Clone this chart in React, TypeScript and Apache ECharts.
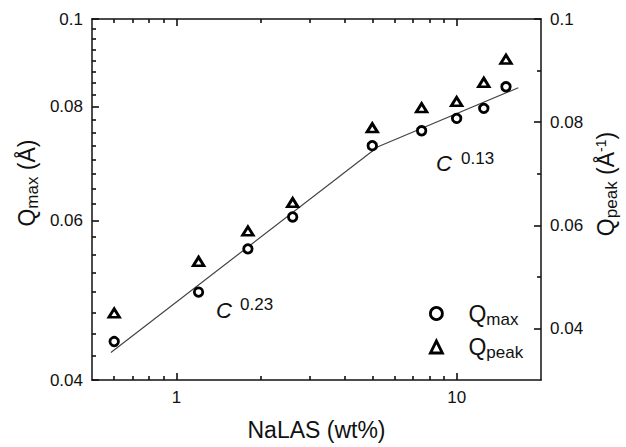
import React, { useEffect, useRef } from "react";
import * as echarts from "echarts";

// NaLAS concentration (wt%)
const concentration = [0.6, 1.2, 1.8, 2.6, 5, 7.5, 10, 12.5, 15];
// Q_max (left log axis)
const qMax = [0.0441, 0.05, 0.0558, 0.0605, 0.0725, 0.0753, 0.0777, 0.0797, 0.0842];
// Q_peak (right linear axis)
const qPeak = [0.043, 0.053, 0.0589, 0.0644, 0.0789, 0.0828, 0.084, 0.0877, 0.0922];
// piecewise power-law fit  (C^0.23 then C^0.13)
const fitX = [0.584, 5.24, 16.6];
const fitY = [0.0429, 0.0723, 0.084];

// axis ranges
const X_MIN = 0.5, X_MAX = 20;
const YL_MIN = 0.04, YL_MAX = 0.1;
const YR_MIN = 0.03, YR_MAX = 0.1;

const xMajorTicks = [1, 10];
const xMinorTicks = [0.6, 0.7, 0.8, 0.9, 2, 3, 4, 5, 6, 7, 8, 9];
const leftMajorTicks = [0.04, 0.06, 0.08, 0.1];
const leftMinorTicks = [
  0.0425, 0.045, 0.0475, 0.05, 0.0525, 0.055, 0.0575,
  0.0625, 0.065, 0.0675, 0.07, 0.0725, 0.075, 0.0775,
  0.0825, 0.085, 0.0875, 0.09, 0.0925, 0.095, 0.0975,
];
const rightMajorTicks = [0.04, 0.06, 0.08, 0.1];
const rightMinorTicks = [0.05, 0.07, 0.09];

const FONT = "'Liberation Sans', Arial, sans-serif";
const INK = "#111";
const CHART_W = 626, CHART_H = 447;
const GRID = { left: 92, right: 85, top: 19, bottom: 67 };
const MAJOR_LEN = 7;
const MINOR_LEN = 4;

// the x axis and the left y axis are logarithmic: they run in log10 space
const lg = Math.log10;
const fmtLog = (v: number) => String(parseFloat(Math.pow(10, v).toPrecision(3)));
const fmtLin = (v: number) => String(parseFloat(Number(v).toPrecision(3)));

// data units per pixel along each axis
const PLOT_W = CHART_W - GRID.left - GRID.right;
const PLOT_H = CHART_H - GRID.top - GRID.bottom;
const X_PER_PX = (lg(X_MAX) - lg(X_MIN)) / PLOT_W;
const YL_PER_PX = (lg(YL_MAX) - lg(YL_MIN)) / PLOT_H;
const YR_PER_PX = (YR_MAX - YR_MIN) / PLOT_H;

type Side = "bottom" | "top" | "left" | "right";

// inward tick marks as segments in data space, drawn by a "lines" series
function tickSeries(vals: number[], side: Side, len: number) {
  const data = vals.map((v) => {
    let a: number[], b: number[];
    if (side === "bottom") { a = [lg(v), lg(YL_MIN)]; b = [lg(v), lg(YL_MIN) + len * YL_PER_PX]; }
    else if (side === "top") { a = [lg(v), lg(YL_MAX)]; b = [lg(v), lg(YL_MAX) - len * YL_PER_PX]; }
    else if (side === "left") { a = [lg(X_MIN), lg(v)]; b = [lg(X_MIN) + len * X_PER_PX, lg(v)]; }
    else { a = [lg(X_MAX), v]; b = [lg(X_MAX) - len * X_PER_PX, v]; }
    return { coords: [a, b] };
  });
  return {
    name: "tick-" + side,
    type: "lines",
    coordinateSystem: "cartesian2d",
    xAxisIndex: 0,
    yAxisIndex: side === "right" ? 1 : 0,
    silent: true,
    clip: false,
    z: 5,
    lineStyle: { color: INK, width: 1.6, opacity: 1 },
    emphasis: { disabled: true },
    data,
  };
}

export default function App() {
  const ref = useRef<HTMLDivElement>(null);
  useEffect(() => {
    if (!ref.current) return;
    const chart = echarts.init(ref.current, undefined, { renderer: "svg" });

    const lineStyle = { color: INK, width: 1.5 };
    const axisLine = { show: true, onZero: false, lineStyle };
    const labelStyle = { color: INK, fontSize: 17, fontFamily: FONT, margin: 9 };

    const txt = (t: string, x: number, y: number, size: number, italic: boolean) => ({
      type: "text", x, y, z: 100,
      style: {
        text: t, fontSize: size, fontStyle: italic ? "italic" : "normal",
        fontFamily: FONT, fill: INK, verticalAlign: "middle",
      },
    });
    const nameRich = {
      q: { fontSize: 23, fontFamily: FONT, fill: INK, color: INK },
      s: { fontSize: 17, fontFamily: FONT, fill: INK, color: INK, padding: [11, 0, 0, 0] },
      u: { fontSize: 14, fontFamily: FONT, fill: INK, color: INK, padding: [0, 0, 11, 0] },
    };
    const yName = (t: string, x: number, y: number) => ({
      type: "text", x, y, rotation: Math.PI / 2, z: 100,
      style: {
        text: t, rich: nameRich, fontSize: 23, fontFamily: FONT, fill: INK,
        align: "center", verticalAlign: "middle",
      },
    });

    chart.setOption({
      animation: false,
      backgroundColor: "#fff",
      grid: GRID,
      xAxis: [
        {
          type: "value", min: lg(X_MIN), max: lg(X_MAX), position: "bottom",
          splitLine: { show: false }, axisLine,
          axisTick: { show: false },
          axisLabel: { ...labelStyle, customValues: xMajorTicks.map(lg), formatter: fmtLog },
          name: "NaLAS (wt%)", nameLocation: "middle", nameGap: 38,
          nameTextStyle: { color: INK, fontSize: 23, fontFamily: FONT },
        },
        {
          type: "value", min: lg(X_MIN), max: lg(X_MAX), position: "top",
          splitLine: { show: false }, axisLine,
          axisTick: { show: false },
          axisLabel: { show: false },
        },
      ],
      yAxis: [
        {
          type: "value", min: lg(YL_MIN), max: lg(YL_MAX), position: "left",
          splitLine: { show: false }, axisLine,
          axisTick: { show: false },
          axisLabel: { ...labelStyle, customValues: leftMajorTicks.map(lg), formatter: fmtLog },
        },
        {
          type: "value", min: YR_MIN, max: YR_MAX, position: "right",
          splitLine: { show: false }, axisLine,
          axisTick: { show: false },
          axisLabel: { ...labelStyle, customValues: rightMajorTicks, formatter: fmtLin },
        },
      ],
      tooltip: { show: false },
      legend: {
        orient: "vertical", left: 424, top: 297,
        itemWidth: 12, itemHeight: 12, itemGap: 8,
        data: ["Qmax", "Qpeak"],
        formatter: (n: string) => (n === "Qmax" ? "{q|Q}{s|max}" : "{q|Q}{s|peak}"),
        itemStyle: { borderWidth: 2.8 },
        textStyle: {
          color: INK, fontFamily: FONT, fontSize: 23,
          rich: {
            q: { fontSize: 23, fontFamily: FONT, color: INK, padding: [0, 0, 0, 21] },
            s: { fontSize: 17, fontFamily: FONT, color: INK, padding: [11, 0, 0, 0] },
          },
        },
      },
      series: [
        {
          name: "fit", type: "line", xAxisIndex: 0, yAxisIndex: 0,
          data: fitX.map((x, i) => [lg(x), lg(fitY[i])]),
          symbol: "none", lineStyle: { color: "#444", width: 1.2 }, z: 1,
        },
        {
          name: "Qmax", type: "scatter", xAxisIndex: 0, yAxisIndex: 0,
          data: concentration.map((x, i) => [lg(x), lg(qMax[i])]),
          symbol: "circle", symbolSize: 8.5,
          itemStyle: { color: "#fff", borderColor: "#000", borderWidth: 2.8, opacity: 1 }, z: 3,
        },
        {
          name: "Qpeak", type: "scatter", xAxisIndex: 0, yAxisIndex: 1,
          data: concentration.map((x, i) => [lg(x), qPeak[i]]),
          symbol: "triangle", symbolSize: [10.5, 8.5],
          itemStyle: { color: "#fff", borderColor: "#000", borderWidth: 2.8, opacity: 1 }, z: 3,
        },
        tickSeries(xMajorTicks, "bottom", MAJOR_LEN),
        tickSeries(xMinorTicks, "bottom", MINOR_LEN),
        tickSeries(xMajorTicks, "top", MAJOR_LEN),
        tickSeries(xMinorTicks, "top", MINOR_LEN),
        tickSeries(leftMajorTicks, "left", MAJOR_LEN),
        tickSeries(leftMinorTicks, "left", MINOR_LEN),
        tickSeries(rightMajorTicks, "right", MAJOR_LEN),
        tickSeries(rightMinorTicks, "right", MINOR_LEN),
      ],
      graphic: [
        yName("{q|Q}{s|max}{q| (Å)}", 27, 183),
        yName("{q|Q}{s|peak}{q| (Å}{u|-1}{q|)}", 606, 184),
        txt("C", 216, 310, 22, true),
        txt("0.23", 240, 304, 17, false),
        txt("C", 436, 163, 22, true),
        txt("0.13", 461, 158, 17, false),
      ],
    });
    return () => chart.dispose();
  }, []);
  return (
    <div
      ref={ref}
      style={{ position: "absolute", left: 0, top: 0, width: CHART_W, height: CHART_H }}
    />
  );
}
